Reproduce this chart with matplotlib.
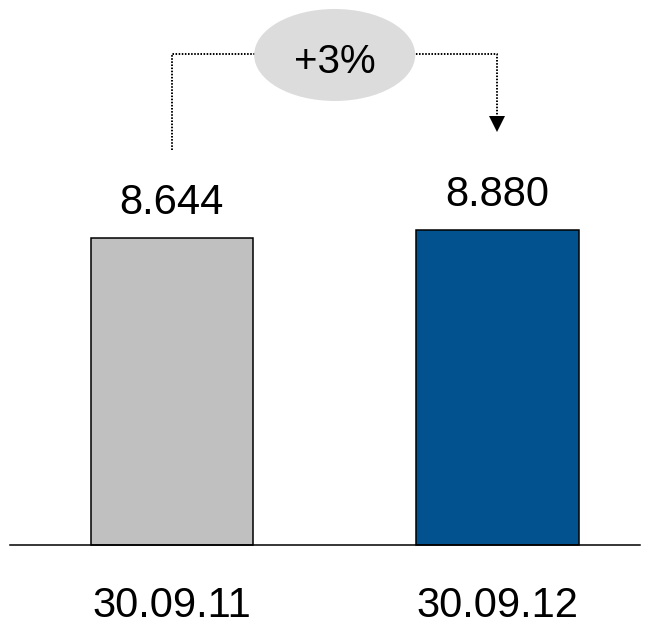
import matplotlib
matplotlib.use("Agg")
import matplotlib.pyplot as plt
from matplotlib.patches import Ellipse

plt.rcParams['font.family'] = ['Liberation Sans', 'DejaVu Sans']

categories = ["30.09.11", "30.09.12"]
values = [8644, 8880]
value_labels = ["8.644", "8.880"]
colors = ["#c0c0c0", "#02528f"]

growth = round((values[1] / values[0] - 1) * 100)
growth_label = f"+{growth}%"

fig = plt.figure(figsize=(6.5, 6.25), dpi=100)
ax = fig.add_axes([0, 0, 1, 1])
ax.set_axis_off()

x = list(range(len(categories)))
ax.bar(x, values, width=0.5, color=colors, edgecolor="black", linewidth=1.1, zorder=2)

ax.set_xlim(-0.528, 1.4685)
ax.set_ylim(-2252, 15345)

# baseline
ax.axhline(0, xmin=0.0154, xmax=0.985, color="black", linewidth=1.1, zorder=3)

# value labels and category labels
for xi, v, lab, cat in zip(x, values, value_labels, categories):
    ax.annotate(lab, (xi, v), xytext=(0, 17), textcoords="offset points",
                ha="center", va="baseline", fontsize=30)
    ax.annotate(cat, (xi, 0), xytext=(0, -51.5), textcoords="offset points",
                ha="center", va="baseline", fontsize=30)

# growth bracket
y_top = 13825
mid = (x[0] + x[1]) / 2
ell = Ellipse((mid, 13797), width=0.4946, height=2590, facecolor="#dcdcdc",
              edgecolor="none", zorder=4)
ax.add_patch(ell)
ax.text(mid, 13290, growth_label, ha="center", va="baseline", fontsize=29, zorder=5)

dot = dict(color="black", linewidth=1.4, linestyle=(0, (0.8, 0.8)), zorder=3)
ax.plot([x[0], x[0], mid], [11122, y_top, y_top], **dot)
ax.plot([mid, x[1], x[1]], [y_top, y_top, 12079], **dot)
ax.plot([x[1]], [11854], marker="v", markersize=11, color="black",
        markeredgewidth=0, zorder=3)

fig.savefig("out.png", dpi=100)
